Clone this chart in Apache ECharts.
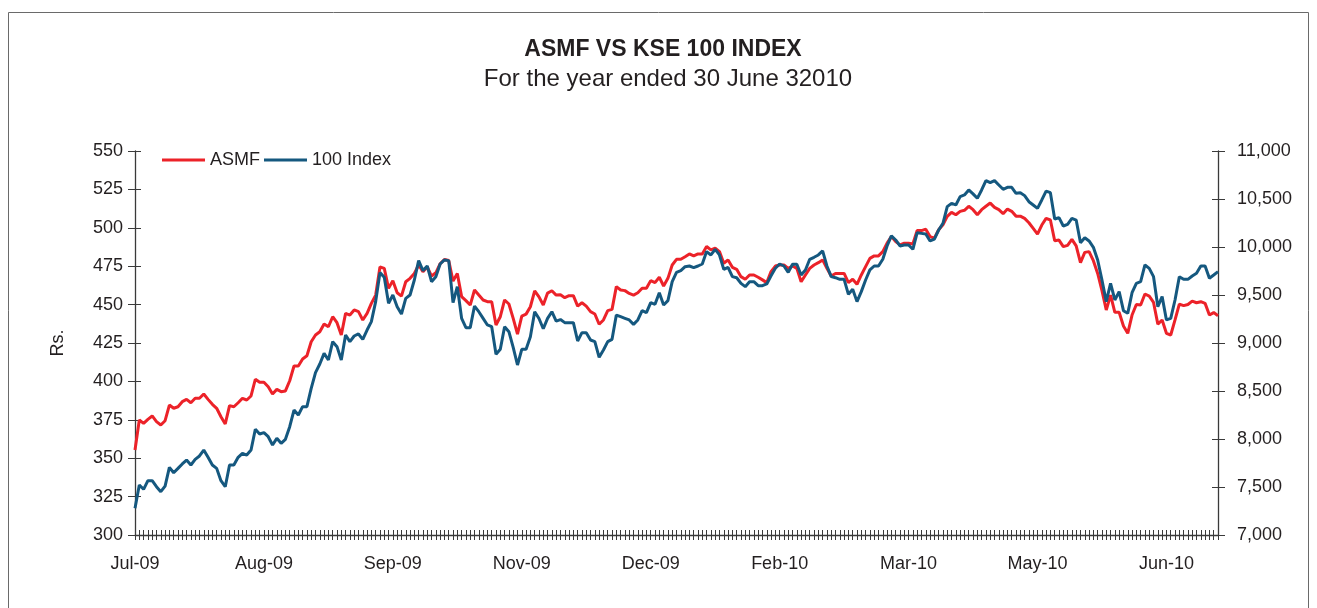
<!DOCTYPE html>
<html><head><meta charset="utf-8">
<script src="https://cdn.jsdelivr.net/npm/echarts@6/dist/echarts.min.js"></script>
<style>html,body{margin:0;padding:0;background:#fff}#c{width:1317px;height:608px}</style>
</head><body><div id="c"></div>
<script>
const tickLabels = ["Jul-09","Aug-09","Sep-09","Nov-09","Dec-09","Feb-10","Mar-10","May-10","Jun-10"];
const asmf = [
355.3,374.9,372.7,375.3,377.5,373.8,371.6,374.4,384.6,382.5,383.5,386.8,388.3,386.1,389,389,391.8,388.3,385.1,382.5,
377,372.3,384.2,383.5,386.1,389,387.9,390.5,401.4,399.4,399.4,396.5,391.8,394.8,393.3,393.8,400.4,410,410,414.6,
416.7,425.8,430.2,432.3,437.4,435.6,442.1,438.2,430.2,444.3,
443.2,446.5,445.4,440,444.3,450.8,456.2,474.5,473.6,460.6,465.6,457.7,455.5,464.9,467.1,470.3,475.8,471.4,474.5,468.6,
470.7,476.6,479.4,478.7,465.3,470.3,455.2,452.6,449.7,459.5,456.2,453,451.9,451.9,436.7,442.1,453,450.4,441,430.8,
442.5,443.8,448.6,459,455,449.7,457.5,459,456.2,456.4,
454.5,455.8,455.8,449,451.2,449,445.4,443.9,437.2,440,446.1,446.9,461.7,459.5,459.1,457.3,456.2,457.7,460.6,460.6,
465.6,464.3,467.8,462.1,467.1,475.8,479.5,479.5,481.2,483,481.7,483,483,487.8,485.6,486.7,484.5,476.9,479.1,474.3,
473,468.2,466.5,469.3,469.3,467.8,466.1,464.3,471.5,
475.1,475.8,475.8,473.6,475.1,473.6,464.9,469.3,473.6,475.8,477.3,479.1,473.6,468.6,470.3,470.3,470.3,464.3,466.5,463.2,
469.3,474.7,480.1,481.7,481.7,484.5,490,494.3,491,488.9,490,490,489.5,498.2,498.2,499.1,494.3,493.3,498.7,502,
507.4,510,508.5,510.7,511.4,514,511.8,508.5,511.8,
514,516.1,513.3,511.8,509.2,512.2,510.7,507.6,507.6,506.1,503.3,499.6,495.9,501.8,506.1,505.1,491.6,492,487.7,488.6,
492.5,488.2,477.3,484,484.5,478.6,470.3,459.1,446.5,456.2,445,445,436.1,431.3,443.2,450.1,449.7,456.9,455.5,451.4,
437.3,440,431.3,430.2,440,450.3,449.3,450.1,452.3,451.2,451.9,450.8,443.2,444.8,442.8
];
const kse100 = [
7278,7521,7476,7566,7566,7503,7451,7510,7705,7649,7694,7740,7781,7729,7788,7823,7885,7809,7729,7694,
7566,7503,7729,7729,7809,7851,7833,7885,8101,8052,8066,8024,7938,8007,7955,7997,8128,8302,8250,8337,
8337,8528,8691,8781,8892,8823,9014,8962,8823,9083,
9014,9073,9094,9038,9135,9222,9431,9733,9684,9413,9500,9378,9302,9465,9500,9656,9858,9754,9802,9639,
9691,9823,9865,9858,9420,9587,9257,9160,9160,9385,9326,9257,9188,9170,8882,8934,9170,9118,8955,8771,
8934,8934,9066,9326,9255,9148,9257,9326,9228,9244,
9212,9212,9212,9021,9108,9108,9031,9014,8851,8927,9014,9038,9291,9274,9257,9240,9194,9240,9337,9316,
9420,9403,9524,9396,9441,9639,9736,9754,9795,9802,9785,9802,9823,9952,9917,9976,9917,9767,9788,9691,
9680,9621,9587,9639,9639,9597,9597,9615,9700,
9778,9823,9802,9736,9820,9820,9708,9761,9872,9893,9917,9959,9802,9691,9680,9663,9663,9507,9559,9431,
9535,9656,9761,9802,9802,9872,10011,10115,10073,10011,10021,10021,9976,10149,10142,10135,10063,10083,10177,10247,
10420,10455,10438,10525,10542,10594,10553,10507,10594,
10691,10670,10691,10646,10601,10622,10622,10559,10566,10535,10472,10438,10403,10490,10583,10566,10292,10306,10219,10236,
10299,10281,10045,10097,10063,9997,9865,9656,9431,9622,9448,9535,9337,9309,9524,9622,9639,9813,9778,9691,
9378,9483,9240,9257,9448,9691,9663,9663,9698,9726,9802,9802,9674,9708,9743
];
const labelStep = 30;
const categories = asmf.map((_, i) => i % labelStep === 0 ? tickLabels[i / labelStep] : 'd' + i);

const FONT = 'Liberation Sans';
const TXT = '#231f20';
const AX = '#3a3a3a';
const chart = echarts.init(document.getElementById('c'), null, {renderer: 'canvas'});
const baseX = {
  type: 'category', data: categories, boundaryGap: false, position: 'bottom'
};
chart.setOption({
  animation: false,
  backgroundColor: '#ffffff',
  textStyle: {fontFamily: FONT},
  grid: {left: 135, right: 99, top: 151, bottom: 73, containLabel: false},
  graphic: [
    {type: 'rect', silent: true, shape: {x: 8.5, y: 12.5, width: 1300, height: 700},
     style: {fill: 'none', stroke: '#6a6a6a', lineWidth: 1}},
    {type: 'text', silent: true, x: 663, y: 50,
     style: {text: 'ASMF VS KSE 100 INDEX', font: 'bold 23px "Liberation Sans"', fill: TXT,
             textAlign: 'center', textVerticalAlign: 'middle'}},
    {type: 'text', silent: true, x: 668, y: 79,
     style: {text: 'For the year ended 30 June 32010', font: '24px "Liberation Sans"', fill: TXT,
             textAlign: 'center', textVerticalAlign: 'middle'}}
  ],
  legend: {
    left: 157, top: 146, icon: 'rect', itemWidth: 43, itemHeight: 3, itemGap: 4,
    textStyle: {fontSize: 18, color: TXT, fontFamily: FONT},
    data: ['ASMF', '100 Index']
  },
  xAxis: [
    Object.assign({}, baseX, {
      axisLine: {show: true, onZero: false, lineStyle: {color: AX, width: 1.3}},
      axisTick: {show: true, interval: 0, length: 5, lineStyle: {color: AX, width: 1}},
      axisLabel: {interval: labelStep - 1, fontSize: 18, color: TXT, margin: 20, fontFamily: FONT},
      splitLine: {show: false}
    }),
    Object.assign({}, baseX, {
      axisLine: {show: false, onZero: false},
      axisTick: {show: true, interval: 0, inside: true, length: 5, lineStyle: {color: AX, width: 1}},
      axisLabel: {show: false},
      splitLine: {show: false}
    })
  ],
  yAxis: [
    {type: 'value', position: 'left', min: 300, max: 550, interval: 25,
     name: 'Rs.', nameLocation: 'middle', nameRotate: 90, nameGap: 68,
     nameTextStyle: {fontSize: 18, color: TXT, fontFamily: FONT},
     axisLine: {show: true, lineStyle: {color: AX, width: 1.3}},
     axisTick: {show: true, length: 7, lineStyle: {color: AX}},
     axisLabel: {fontSize: 18, color: TXT, margin: 12, fontFamily: FONT},
     splitLine: {show: false}},
    {type: 'value', position: 'right', min: 7000, max: 11000, interval: 500,
     axisLine: {show: true, lineStyle: {color: AX, width: 1.3}},
     axisTick: {show: true, length: 7, lineStyle: {color: AX}},
     axisLabel: {fontSize: 18, color: TXT, margin: 19, fontFamily: FONT,
                 formatter: v => v.toLocaleString('en-US')},
     splitLine: {show: false}},
    {type: 'value', position: 'left', min: 300, max: 550, interval: 25,
     axisLine: {show: false}, axisTick: {show: true, inside: true, length: 6, lineStyle: {color: AX}},
     axisLabel: {show: false}, splitLine: {show: false}},
    {type: 'value', position: 'right', min: 7000, max: 11000, interval: 500,
     axisLine: {show: false}, axisTick: {show: true, inside: true, length: 6, lineStyle: {color: AX}},
     axisLabel: {show: false}, splitLine: {show: false}}
  ],
  series: [
    {name: 'ASMF', type: 'line', data: asmf, xAxisIndex: 0, yAxisIndex: 0, symbol: 'none',
     lineStyle: {color: '#ec2229', width: 3}, itemStyle: {color: '#ec2229'}},
    {name: '100 Index', type: 'line', data: kse100, xAxisIndex: 0, yAxisIndex: 1, symbol: 'none',
     lineStyle: {color: '#15587f', width: 3}, itemStyle: {color: '#15587f'}}
  ]
});
</script>
</body></html>
